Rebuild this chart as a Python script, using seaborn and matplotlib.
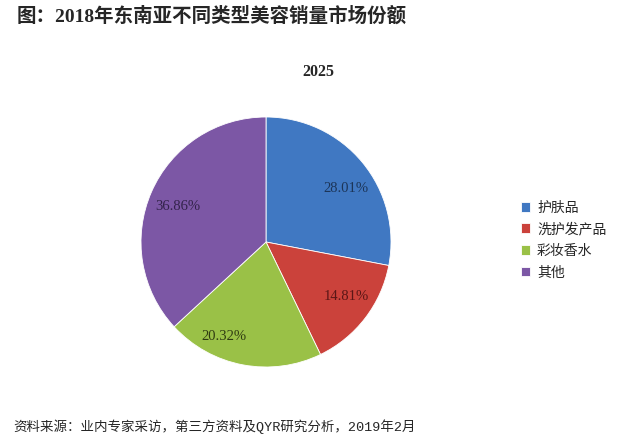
import numpy as np
import seaborn as sns
import matplotlib
matplotlib.use('Agg')
import matplotlib.pyplot as plt

categories = ['护肤品', '洗护发产品', '彩妆香水', '其他']
shares = [28.01, 14.81, 20.32, 36.86]
colors = ['#4078C2', '#CB423B', '#9AC147', '#7C57A5']
label_colors = ['#1C3558', '#5A1616', '#2F3B12', '#33234A']

sns.set_style('white')
plt.rcParams['font.family'] = ['Noto Sans CJK SC', 'DejaVu Sans']

fig = plt.figure(figsize=(6.28, 4.41), dpi=100)
fig.patch.set_facecolor('white')

# pie centre ~ (266, 242) px, radius ~ 125 px
W, H = 628, 441
cx, cy, r = 266, 242, 125
ax = fig.add_axes([(cx - r) / W, (H - cy - r) / H, 2 * r / W, 2 * r / H])

wedges, texts, autotexts = ax.pie(
    shares, colors=colors, startangle=90, counterclock=False,
    autopct='%.2f%%', pctdistance=0.78, radius=1,
    wedgeprops=dict(edgecolor='white', linewidth=0.6),
    textprops=dict(family=['Liberation Serif', 'DejaVu Serif'], fontsize=10.5))

# nudge labels a bit like the original (angle shift in degrees, distance)
nudges = [(-5.6, 0.77), (3.2, 0.78), (-13, 0.83), (2, 0.76)]
for w, t, c, (da, d) in zip(wedges, autotexts, label_colors, nudges):
    ang = np.deg2rad((w.theta1 + w.theta2) / 2 + da)
    t.set_position((d * np.cos(ang), d * np.sin(ang)))
    t.set_color(c)
ax.set_xlim(-1, 1)
ax.set_ylim(-1, 1)
ax.axis('off')

fig.text(17 / W, 1 - 16 / H, '图：2018年东南亚不同类型美容销量市场份额',
         family=['Liberation Serif', 'Noto Sans CJK SC'], fontweight='bold',
         fontsize=14, ha='left', va='center')
fig.text(318 / W, 1 - 72 / H, '2025', family=['Liberation Serif'],
         fontweight='bold', fontsize=11.5, ha='center', va='center')
fig.text(13 / W, 1 - 427 / H, '资料来源：业内专家采访，第三方资料及QYR研究分析，2019年2月',
         family=['Liberation Mono', 'Noto Sans CJK SC'],
         fontsize=9.7, ha='left', va='center')

fig.legend(wedges, categories, loc='upper left',
           bbox_to_anchor=(508 / W, 1 - 188 / H), frameon=False,
           fontsize=10, handlelength=0.7, handleheight=0.7,
           handletextpad=0.5, labelspacing=0.55)

fig.savefig('out.png', dpi=100, facecolor='white')
